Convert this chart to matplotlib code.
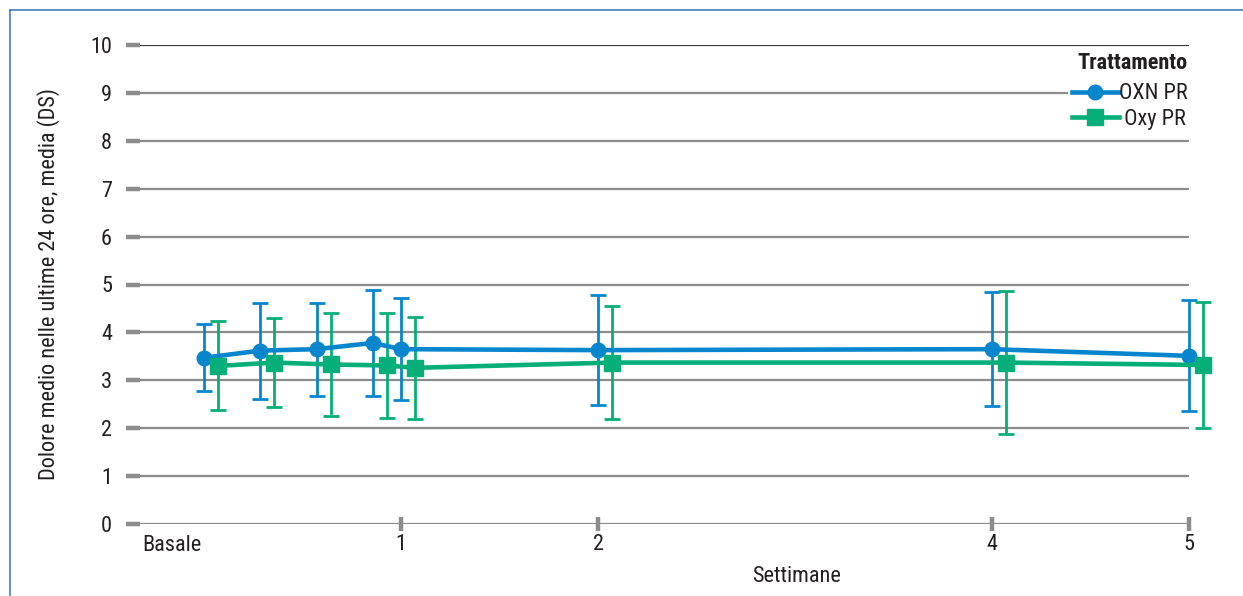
import matplotlib

matplotlib.use("Agg")
import matplotlib.pyplot as plt
from matplotlib.lines import Line2D
from matplotlib.transforms import offset_copy

plt.rcParams["font.family"] = ["Liberation Sans Narrow", "Roboto Condensed",
                               "DejaVu Sans"]
plt.rcParams["font.stretch"] = "condensed"

# visit days (converted to weeks below); Oxy PR is dodged half a day to the right
DAYS = [0, 2, 4, 6, 7, 14, 28, 35]
DODGE_DAYS = 0.5
OXN_MEAN = [3.47, 3.62, 3.65, 3.78, 3.65, 3.63, 3.65, 3.51]
OXN_SD = [0.70, 1.00, 0.97, 1.10, 1.06, 1.15, 1.19, 1.16]
OXY_MEAN = [3.30, 3.37, 3.33, 3.31, 3.26, 3.37, 3.37, 3.32]
OXY_SD = [0.93, 0.93, 1.08, 1.09, 1.07, 1.18, 1.49, 1.31]
WEEK_TICKS = [1, 2, 4, 5]
Y_TICKS = list(range(0, 11))

BLUE = "#0786cd"
GREEN = "#06ae7a"
GRID = "#8c8c8c"
TEXT = "#231f20"
FS = 16

W, H = 1243, 596
fig = plt.figure(figsize=(W / 100, H / 100), dpi=100)
ax = fig.add_axes([126 / W, 1 - 524 / H, (1189 - 126) / W, (524 - 45) / H])

weeks_oxn = [d / 7 for d in DAYS]
weeks_oxy = [(d + DODGE_DAYS) / 7 for d in DAYS]

# horizontal grid; the top one is darker
for y in Y_TICKS:
    ax.axhline(y, color="#3a3a3a" if y == 10 else GRID, lw=1.6, zorder=1)

err_kw = dict(elinewidth=2.0, capsize=6, capthick=2.0, clip_on=False)
ax.errorbar(weeks_oxn, OXN_MEAN, yerr=OXN_SD, fmt="none", ecolor=BLUE, zorder=3, **err_kw)
ax.errorbar(weeks_oxy, OXY_MEAN, yerr=OXY_SD, fmt="none", ecolor=GREEN, zorder=3, **err_kw)
ax.plot(weeks_oxn, OXN_MEAN, color=BLUE, lw=3.3, marker="o", ms=10.5,
        clip_on=False, zorder=4, solid_capstyle="butt")
ax.plot(weeks_oxy, OXY_MEAN, color=GREEN, lw=3.3, marker="s", ms=11,
        clip_on=False, zorder=4, solid_capstyle="butt")

ax.set_xlim(-(204 - 126) / 197, 5.0)
ax.set_ylim(0, 10)
for side in ("top", "right", "left", "bottom"):
    ax.spines[side].set_visible(False)

ax.set_yticks(Y_TICKS)
ax.tick_params(axis="y", direction="in", length=10, width=3.2, color=GRID,
               pad=10, labelsize=FS, labelcolor=TEXT)
ax.set_xticks(WEEK_TICKS)
ax.set_xticklabels([str(w) for w in WEEK_TICKS])
ax.tick_params(axis="x", direction="inout", length=10, width=3.2, color=GRID,
               pad=2, labelsize=FS, labelcolor=TEXT)

basale_tr = offset_copy(ax.get_xaxis_transform(), fig=fig, x=-32, y=0, units="dots")
ax.text(0, -0.022, "Basale", transform=basale_tr, ha="center", va="top",
        fontsize=FS, color=TEXT)

ax.set_ylabel("Dolore medio nelle ultime 24 ore, media (DS)", fontsize=FS, color=TEXT)
ax.yaxis.set_label_coords((60 - 126) / 1063, 0.5)
fig.text(797 / W, 1 - 576 / H, "Settimane", ha="center", va="center",
         fontsize=FS, color=TEXT)

# legend title drawn separately so its gap to the entries can be set freely
fig.text(1188 / W, 1 - 63 / H, "Trattamento", ha="right", va="center",
         fontsize=FS, fontweight="bold", color=TEXT)
handles = [
    Line2D([], [], color=BLUE, lw=3.3, marker="o", ms=10.5),
    Line2D([], [], color=GREEN, lw=3.3, marker="s", ms=11),
]
leg = ax.legend(handles, ["OXN PR", " Oxy PR"],
                loc="upper right", bbox_to_anchor=(1192 / W, 1 - 79 / H),
                bbox_transform=fig.transFigure, frameon=True, fancybox=False,
                edgecolor="none", facecolor="white", framealpha=1,
                handlelength=2.1, handletextpad=0.0, borderpad=0.2,
                borderaxespad=0, labelspacing=0.2, fontsize=FS)
for t in leg.get_texts():
    t.set_color(TEXT)
leg.set_zorder(5)

# outer frame: blue rule on top and left edges
fig.add_artist(Line2D([9.5 / W, 9.5 / W], [0, 1 - 10 / H], color="#4a7dba", lw=1.2,
                      transform=fig.transFigure))
fig.add_artist(Line2D([9.5 / W, 1], [1 - 10 / H, 1 - 10 / H], color="#4a7dba", lw=1.2,
                      transform=fig.transFigure))

fig.savefig("out.png", dpi=100)
